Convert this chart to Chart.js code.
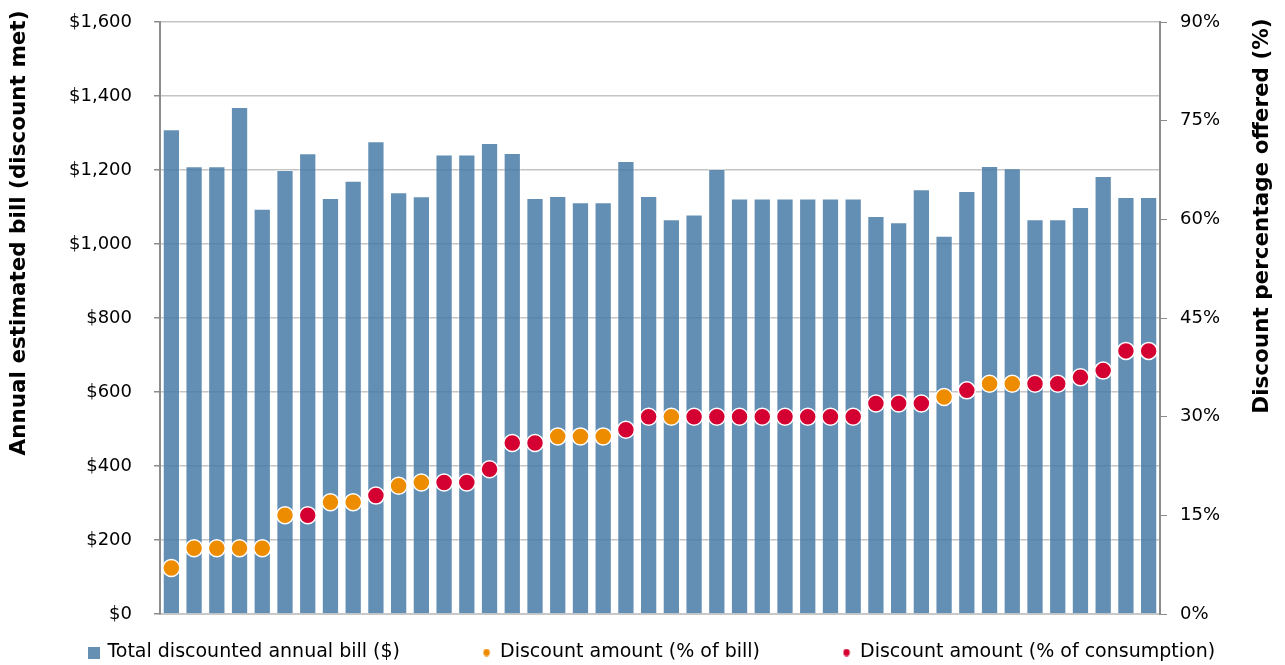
<!DOCTYPE html>
<html>
<head>
<meta charset="utf-8">
<script src="https://cdn.jsdelivr.net/npm/chart.js@4.4.0/dist/chart.umd.min.js"></script>
<style>
  html, body { margin: 0; padding: 0; background: #fff; }
  #wrap { width: 1285px; height: 665px; }
</style>
</head>
<body>
<div id="wrap"><canvas id="chart"></canvas></div>
<script>
// one entry per retail offer, sorted by discount size
const offers = Array.from({ length: 44 }, (_, i) => 'Offer ' + (i + 1));

// total discounted annual bill ($)
const bills = [1310, 1210, 1210, 1370, 1095, 1200, 1245, 1124, 1171, 1278,
  1140, 1129, 1242, 1242, 1273, 1246, 1124, 1130, 1113, 1113,
  1224, 1130, 1067, 1080, 1203, 1123, 1123, 1123, 1123, 1123,
  1123, 1076, 1059, 1148, 1022, 1143, 1211, 1205, 1067, 1067,
  1100, 1184, 1127, 1127];

// discount offered (%)
const discounts = [7, 10, 10, 10, 10, 15, 15, 17, 17, 18,
  19.5, 20, 20, 20, 22, 26, 26, 27, 27, 27,
  28, 30, 30, 30, 30, 30, 30, 30, 30, 30,
  30, 32, 32, 32, 33, 34, 35, 35, 35, 35,
  36, 37, 40, 40];

// what the discount applies to: 'bill' or 'cons' (consumption)
const basis = ['bill', 'bill', 'bill', 'bill', 'bill', 'bill', 'cons', 'bill', 'bill', 'cons',
  'bill', 'bill', 'cons', 'cons', 'cons', 'cons', 'cons', 'bill', 'bill', 'bill',
  'cons', 'cons', 'bill', 'cons', 'cons', 'cons', 'cons', 'cons', 'cons', 'cons',
  'cons', 'cons', 'cons', 'cons', 'bill', 'cons', 'bill', 'bill', 'cons', 'cons',
  'cons', 'cons', 'cons', 'cons'];

const billPct = discounts.map((v, i) => basis[i] === 'bill' ? v : null);
const consPct = discounts.map((v, i) => basis[i] === 'cons' ? v : null);

const leftTitle = 'Annual estimated bill (discount met)';
const rightTitle = 'Discount percentage offered (%)';

const FONT = 'DejaVu Sans';
const AXIS_GREY = '#8c8c8c';
const BAR_BLUE = '#6590b4';
const ORANGE = '#ee8c00';
const RED = '#d50032';
const EN = '\u2002'; // en space, keeps tick labels off the axis without big tick padding

// small legend markers (square for the bars, little dots for the points)
function marker(shape, color) {
  const c = document.createElement('canvas');
  const size = shape === 'rect' ? 12 : 8;
  c.width = size; c.height = size;
  const g = c.getContext('2d');
  g.fillStyle = color;
  if (shape === 'rect') {
    g.fillRect(0, 0, size, size);
  } else {
    g.beginPath();
    g.ellipse(size / 2, size / 2, 3.2, 3.8, 0, 0, Math.PI * 2);
    g.fill();
  }
  return c;
}

const dots = (label, data, color) => ({
  type: 'line',
  label,
  data,
  yAxisID: 'y1',
  showLine: false,
  pointStyle: 'circle',
  pointRadius: 8.5,
  pointHoverRadius: 8.5,
  pointBackgroundColor: color,
  pointBorderColor: '#ffffff',
  pointBorderWidth: 1.5,
  backgroundColor: color,
  borderColor: color,
  order: 0
});

// both axis titles read bottom-to-top, so draw them ourselves
const axisTitles = {
  id: 'axisTitles',
  afterDraw(chart) {
    const ctx = chart.ctx;
    ctx.save();
    ctx.fillStyle = '#000';
    ctx.font = 'bold 21.5px "' + FONT + '"';
    ctx.textAlign = 'center';
    ctx.textBaseline = 'alphabetic';
    [[leftTitle, 25, 233], [rightTitle, 1268, 216]].forEach(([t, x, y]) => {
      ctx.save();
      ctx.translate(x, y);
      ctx.rotate(-Math.PI / 2);
      ctx.fillText(t, 0, 0);
      ctx.restore();
    });
    ctx.restore();
  }
};

const legendMarkers = [marker('rect', BAR_BLUE), marker('circle', ORANGE), marker('circle', RED)];
const GAP = ' '.repeat(13);

new Chart(document.getElementById('chart'), {
  type: 'bar',
  data: {
    labels: offers,
    datasets: [
      {
        label: 'Total discounted annual bill ($)',
        data: bills,
        yAxisID: 'y',
        backgroundColor: 'rgba(70, 122, 166, 0.84)',
        borderColor: 'rgba(255, 255, 255, 0.35)',
        borderWidth: 1,
        categoryPercentage: 1,
        barPercentage: 0.76,
        order: 1
      },
      dots('Discount amount (% of bill)', billPct, ORANGE),
      dots('Discount amount (% of consumption)', consPct, RED)
    ]
  },
  plugins: [axisTitles],
  options: {
    responsive: true,
    maintainAspectRatio: false,
    animation: false,
    layout: { padding: { top: 22, bottom: -7, left: 20 } },
    plugins: {
      tooltip: { enabled: false },
      legend: {
        position: 'bottom',
        labels: {
          usePointStyle: true,
          boxWidth: 8,
          boxHeight: 12,
          padding: 4,
          color: '#000',
          font: { family: FONT, size: 19 },
          generateLabels: (chart) => chart.data.datasets.map((ds, i) => ({
            text: ds.label + (i < 2 ? GAP : ''),
            fillStyle: BAR_BLUE,
            lineWidth: 0,
            pointStyle: legendMarkers[i],
            datasetIndex: i,
            fontColor: '#000'
          }))
        }
      }
    },
    scales: {
      x: {
        afterFit: (s) => { s.height = 25; },
        grid: { display: false },
        ticks: { display: false },
        border: { display: true, color: '#c8c8c8', width: 2 }
      },
      y: {
        position: 'left',
        min: 0,
        max: 1600,
        afterFit: (s) => { s.width = 140; },
        ticks: {
          stepSize: 200,
          padding: 4,
          color: '#000',
          font: { family: FONT, size: 18 },
          callback: (v) => '$' + v.toLocaleString('en-US') + EN + EN
        },
        grid: {
          color: '#c4c4c4',
          lineWidth: 1.5,
          tickColor: AXIS_GREY,
          tickLength: 6
        },
        border: { color: AXIS_GREY, width: 2 }
      },
      y1: {
        position: 'right',
        min: 0,
        max: 90,
        afterFit: (s) => { s.width = 125; },
        ticks: {
          stepSize: 15,
          padding: 4,
          color: '#000',
          font: { family: FONT, size: 18 },
          callback: (v) => EN + v + '%'
        },
        grid: {
          drawOnChartArea: false,
          tickColor: AXIS_GREY,
          tickLength: 7
        },
        border: { color: AXIS_GREY, width: 2 }
      }
    }
  }
});
</script>
</body>
</html>
